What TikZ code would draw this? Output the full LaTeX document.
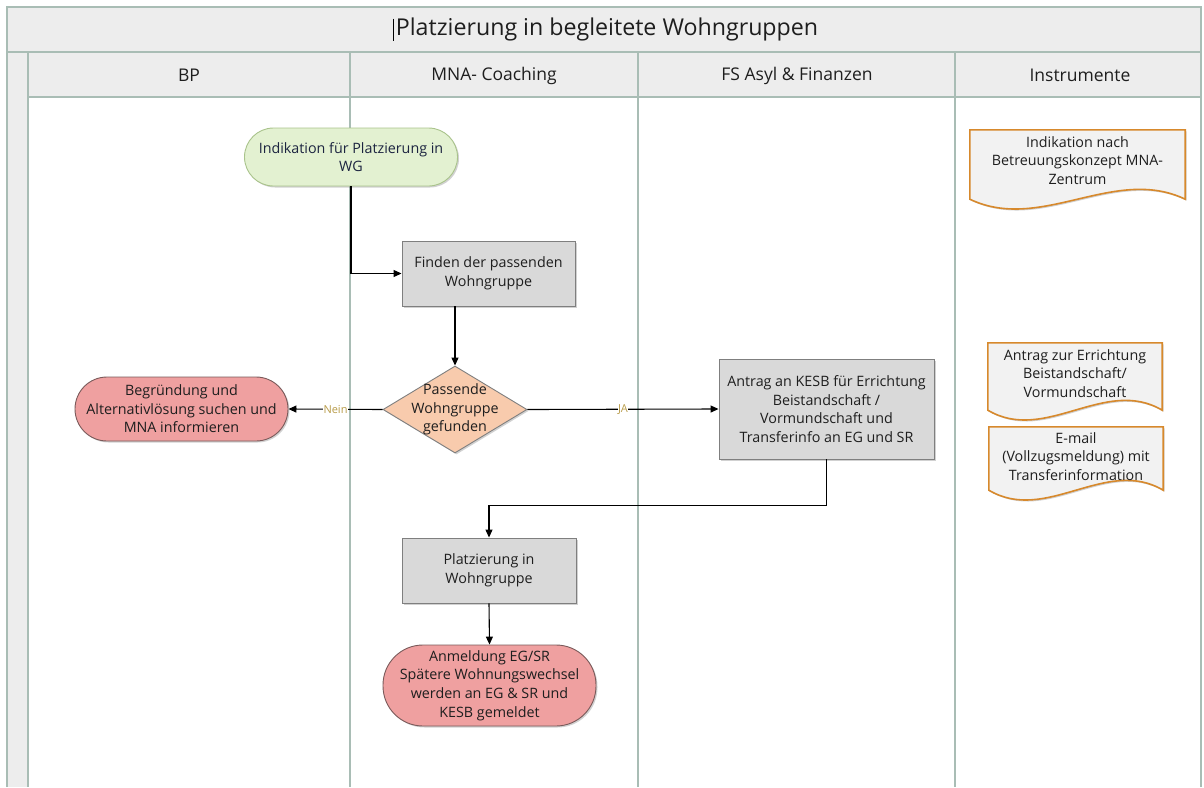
\documentclass[tikz,border=0pt]{standalone}
\usepackage{fontspec}
\setmainfont{Open Sans}
\usetikzlibrary{arrows.meta,shapes.geometric,shadows,calc}

\definecolor{laneline}{HTML}{A9BDB5}
\definecolor{bandfill}{HTML}{EDEDED}
\definecolor{txt}{HTML}{1E1E1E}
\definecolor{navytxt}{HTML}{1C2440}
\definecolor{greenfill}{HTML}{E3F1D1}
\definecolor{greenline}{HTML}{A9C38B}
\definecolor{redfill}{HTML}{EFA0A0}
\definecolor{redline}{HTML}{7A5A5A}
\definecolor{boxfill}{HTML}{D9D9D9}
\definecolor{boxline}{HTML}{7F7F7F}
\definecolor{peach}{HTML}{F8CBAD}
\definecolor{docfill}{HTML}{F2F2F2}
\definecolor{docline}{HTML}{D7892C}
\definecolor{lblcol}{HTML}{B89B48}

\tikzset{
  lane/.style={draw=laneline, line width=1.2pt},
  body/.style={font=\fontsize{14.3}{18.6}\selectfont, text=txt, align=center},
  softshadow/.style={drop shadow={shadow xshift=1.5pt, shadow yshift=-1.5pt, fill=black, opacity=0.18}},
  term/.style={body, softshadow, rectangle, line width=0.9pt, minimum width=213pt},
  greenterm/.style={term, text=navytxt, fill=greenfill, draw=greenline, minimum height=58pt, rounded corners=29pt},
  redterm/.style={term, fill=redfill, draw=redline, minimum height=64pt, rounded corners=32pt},
  procbox/.style={body, softshadow, rectangle, fill=boxfill, draw=boxline, line width=0.9pt},
  decision/.style={diamond, softshadow, fill=peach, draw=boxline, line width=0.9pt,
    minimum width=144pt, minimum height=87pt, inner sep=0pt},
  docbox/.style={rectangle, inner sep=0pt},
  docoutline/.style={fill=docfill, draw=docline, line width=1.6pt},
  flow/.style={draw=black, line width=1.1pt, -{Triangle[length=8pt,width=7pt]}},
  branch/.style={font=\fontsize{11}{13}\selectfont, text=lblcol, fill=white, inner sep=0.5pt},
  header/.style={font=\fontsize{17.5}{20}\selectfont, text=txt}
}

% document symbol with a wavy lower edge around a named node
\newcommand\docsymbol[1]{%
  \path[docoutline, softshadow]
    (#1.north west) -- (#1.north east) -- (#1.south east)
    .. controls ($(#1.south east)!0.33!(#1.south west)+(0,-34)$)
           and ($(#1.south east)!0.67!(#1.south west)+(0,34)$) ..
    (#1.south west) -- cycle;}

\begin{document}
\begin{tikzpicture}[x=1pt, y=-1pt]
  \useasboundingbox (0,0) rectangle (1204,787);

  % pool frame, title band, header row and left strip
  \fill[bandfill] (7,7) rectangle (1201,52);
  \fill[bandfill] (28,52) rectangle (1201,97);
  \fill[bandfill] (7,52) rectangle (28,787);
  \draw[lane] (7,787) -- (7,7) -- (1201,7) -- (1201,787);
  \draw[lane] (7,52) -- (1201,52);
  \draw[lane] (28,97) -- (1201,97);
  \foreach \x in {28,350,638,955} \draw[lane] (\x,52) -- (\x,787);

  \node[font=\fontsize{23.2}{27}\selectfont, text=txt] (title) at (607,29.5) {Platzierung in begleitete Wohngruppen};
  \draw[black, line width=0.6pt] ($(title.west)+(1,-11)$) -- ($(title.west)+(1,11)$);

  \node[header] (hbp)  at (189,75.5)  {BP};
  \node[header] (hmna) at (494,75.5)  {MNA- Coaching};
  \node[header] (hfs)  at (797,75.5)  {FS Asyl \& Finanzen};
  \node[header] (hins) at (1080,75.5) {Instrumente};

  % process
  \node[greenterm] (ind) at (351,157) {Indikation für Platzierung in\\WG};
  \node[procbox, minimum width=173pt, minimum height=65pt] (find) at (488.5,273.5) {Finden der passenden\\Wohngruppe};
  \node[decision, label={[body]center:Passende\\Wohngruppe\\gefunden}] (dec) at (455,409.5) {};
  \node[redterm] (alt) at (181.5,409) {Begründung und\\Alternativlösung suchen und\\MNA informieren};
  \node[procbox, minimum width=215pt, minimum height=100pt] (kesb) at (826.5,409) {Antrag an KESB für Errichtung\\Beistandschaft /\\Vormundschaft und\\Transferinfo an EG und SR};
  \node[procbox, minimum width=174pt, minimum height=65pt] (place) at (489,570.5) {Platzierung in\\Wohngruppe};
  \node[term, fill=redfill, draw=redline, minimum height=81pt, rounded corners=40pt] (anm) at (489.5,685.5)
    {Anmeldung EG/SR\\Spätere Wohnungswechsel\\werden an EG \& SR  und\\KESB gemeldet};

  % instruments
  \node[docbox, minimum width=215pt, minimum height=69pt] (doc1) at (1077.5,164.5) {};
  \node[docbox, minimum width=174pt, minimum height=67pt] (doc2) at (1075,376.5) {};
  \node[docbox, minimum width=174pt, minimum height=63pt] (doc3) at (1076,458.5) {};
  \docsymbol{doc1}
  \docsymbol{doc2}
  \docsymbol{doc3}
  \node[body] (t1) at ($(doc1.center)+(0,-4)$) {Indikation nach\\Betreuungskonzept MNA-\\Zentrum};
  \node[body] (t2) at ($(doc2.center)+(0,-3)$) {Antrag zur Errichtung\\Beistandschaft/\\Vormundschaft};
  \node[body] (t3) at ($(doc3.center)+(0,-2)$) {E-mail\\(Vollzugsmeldung) mit\\Transferinformation};

  % connectors
  \draw[flow] (ind.south) |- (find.west);
  \draw[flow] (find.south -| dec.north) -- (dec.north);
  \draw[flow] (dec.west) -- node[branch] {Nein} (alt.east);
  \draw[flow] (dec.east) -- node[branch] {JA} (kesb.west);
  \draw[flow] (kesb.south) -- ++(0,46) -| (place.north);
  \draw[flow] (place.south) -- (anm.north);
\end{tikzpicture}
\end{document}
